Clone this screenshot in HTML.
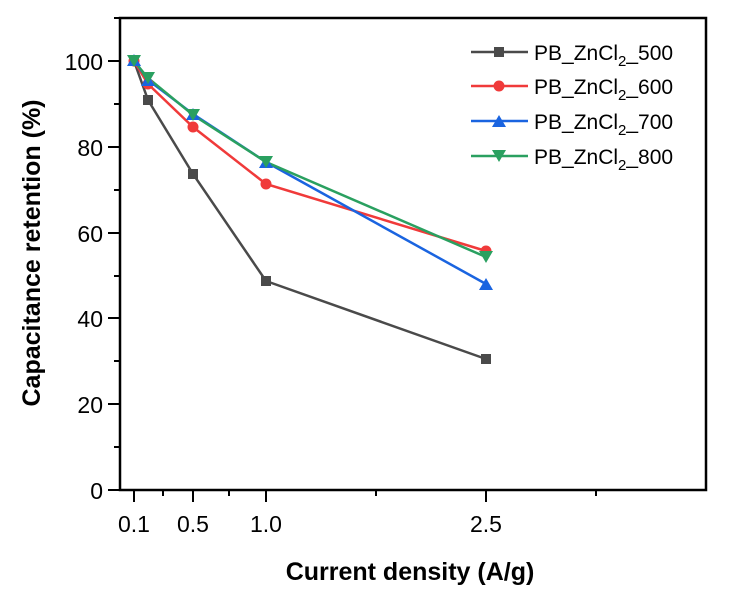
<!DOCTYPE html>
<html><head><style>body{margin:0;background:#fff}</style></head><body>
<svg width="730" height="600" xmlns="http://www.w3.org/2000/svg" font-family="Liberation Sans, Arial, sans-serif">
<rect width="730" height="600" fill="#fff"/>
<g stroke="#000" stroke-width="2.5" fill="none">
<rect x="120" y="18" width="586" height="472"/>
</g>
<g stroke="#000" stroke-width="2">
<line x1="120" y1="490" x2="108" y2="490"/><line x1="120" y1="404" x2="108" y2="404"/>
<line x1="120" y1="318" x2="108" y2="318"/><line x1="120" y1="233" x2="108" y2="233"/>
<line x1="120" y1="147" x2="108" y2="147"/><line x1="120" y1="61" x2="108" y2="61"/>
<line x1="120" y1="447" x2="114" y2="447"/><line x1="120" y1="361" x2="114" y2="361"/>
<line x1="120" y1="276" x2="114" y2="276"/><line x1="120" y1="190" x2="114" y2="190"/>
<line x1="120" y1="104" x2="114" y2="104"/><line x1="120" y1="18" x2="114" y2="18"/>
<line x1="134" y1="490" x2="134" y2="502"/><line x1="193" y1="490" x2="193" y2="502"/>
<line x1="266" y1="490" x2="266" y2="502"/><line x1="486" y1="490" x2="486" y2="502"/>
<line x1="163" y1="490" x2="163" y2="496"/><line x1="229" y1="490" x2="229" y2="496"/>
<line x1="376" y1="490" x2="376" y2="496"/><line x1="596" y1="490" x2="596" y2="496"/>
</g>
<g font-size="23" text-anchor="end" fill="#000">
<text x="103" y="499">0</text><text x="103" y="413">20</text><text x="103" y="327">40</text>
<text x="103" y="242">60</text><text x="103" y="156">80</text><text x="103" y="70">100</text>
</g>
<g font-size="23" text-anchor="middle">
<text x="134" y="532">0.1</text><text x="193" y="532">0.5</text><text x="266" y="532">1.0</text><text x="486" y="532">2.5</text>
</g>
<text x="410" y="580" font-size="25" font-weight="bold" text-anchor="middle">Current density (A/g)</text>
<text transform="translate(40,253) rotate(-90)" font-size="25" font-weight="bold" text-anchor="middle">Capacitance retention (%)</text>
<g fill="none" stroke-width="2.5">
<polyline stroke="#4a4a4a" points="134,61 148,100 193,174 266,281 486,359"/>
<polyline stroke="#f03a3a" points="134,61 148,84 193,127 266,184 486,251"/>
<polyline stroke="#1a64e0" points="134,60 148,80 193,114 266,162 486,284"/>
<polyline stroke="#2aa060" points="134,61 148,78 193,115 266,162 486,257"/>
</g>
<g fill="#4a4a4a">
<rect x="129" y="56" width="10" height="10"/><rect x="143" y="95" width="10" height="10"/><rect x="188" y="169" width="10" height="10"/><rect x="261" y="276" width="10" height="10"/><rect x="481" y="354" width="10" height="10"/>
</g>
<g fill="#f03a3a">
<circle cx="134" cy="61" r="5.5"/><circle cx="148" cy="84" r="5.5"/><circle cx="193" cy="127" r="5.5"/><circle cx="266" cy="184" r="5.5"/><circle cx="486" cy="251" r="5.5"/>
</g>
<g fill="#1a64e0">
<polygon points="134,54 141,66 127,66"/><polygon points="148,74 155,86 141,86"/><polygon points="193,108 200,120 186,120"/><polygon points="266,156 273,168 259,168"/><polygon points="486,278 493,290 479,290"/>
</g>
<g fill="#2aa060">
<polygon points="127,55 141,55 134,67"/><polygon points="141,72 155,72 148,84"/><polygon points="186,109 200,109 193,121"/><polygon points="259,156 273,156 266,168"/><polygon points="479,251 493,251 486,263"/>
</g>
<g stroke-width="2.5">
<line x1="471" y1="52" x2="528" y2="52" stroke="#4a4a4a"/>
<line x1="471" y1="86" x2="528" y2="86" stroke="#f03a3a"/>
<line x1="471" y1="121" x2="528" y2="121" stroke="#1a64e0"/>
<line x1="471" y1="156" x2="528" y2="156" stroke="#2aa060"/>
</g>
<rect x="494" y="47" width="10" height="10" fill="#4a4a4a"/>
<circle cx="499" cy="86" r="5.5" fill="#f03a3a"/>
<polygon points="499,115 506,127 492,127" fill="#1a64e0"/>
<polygon points="492,150 506,150 499,162" fill="#2aa060"/>
<g font-size="21" fill="#000">
<text x="534" y="60">PB_ZnCl<tspan font-size="15" dy="6">2</tspan><tspan dy="-6">_500</tspan></text>
<text x="534" y="94">PB_ZnCl<tspan font-size="15" dy="6">2</tspan><tspan dy="-6">_600</tspan></text>
<text x="534" y="129">PB_ZnCl<tspan font-size="15" dy="6">2</tspan><tspan dy="-6">_700</tspan></text>
<text x="534" y="164">PB_ZnCl<tspan font-size="15" dy="6">2</tspan><tspan dy="-6">_800</tspan></text>
</g>
</svg>
</body></html>
